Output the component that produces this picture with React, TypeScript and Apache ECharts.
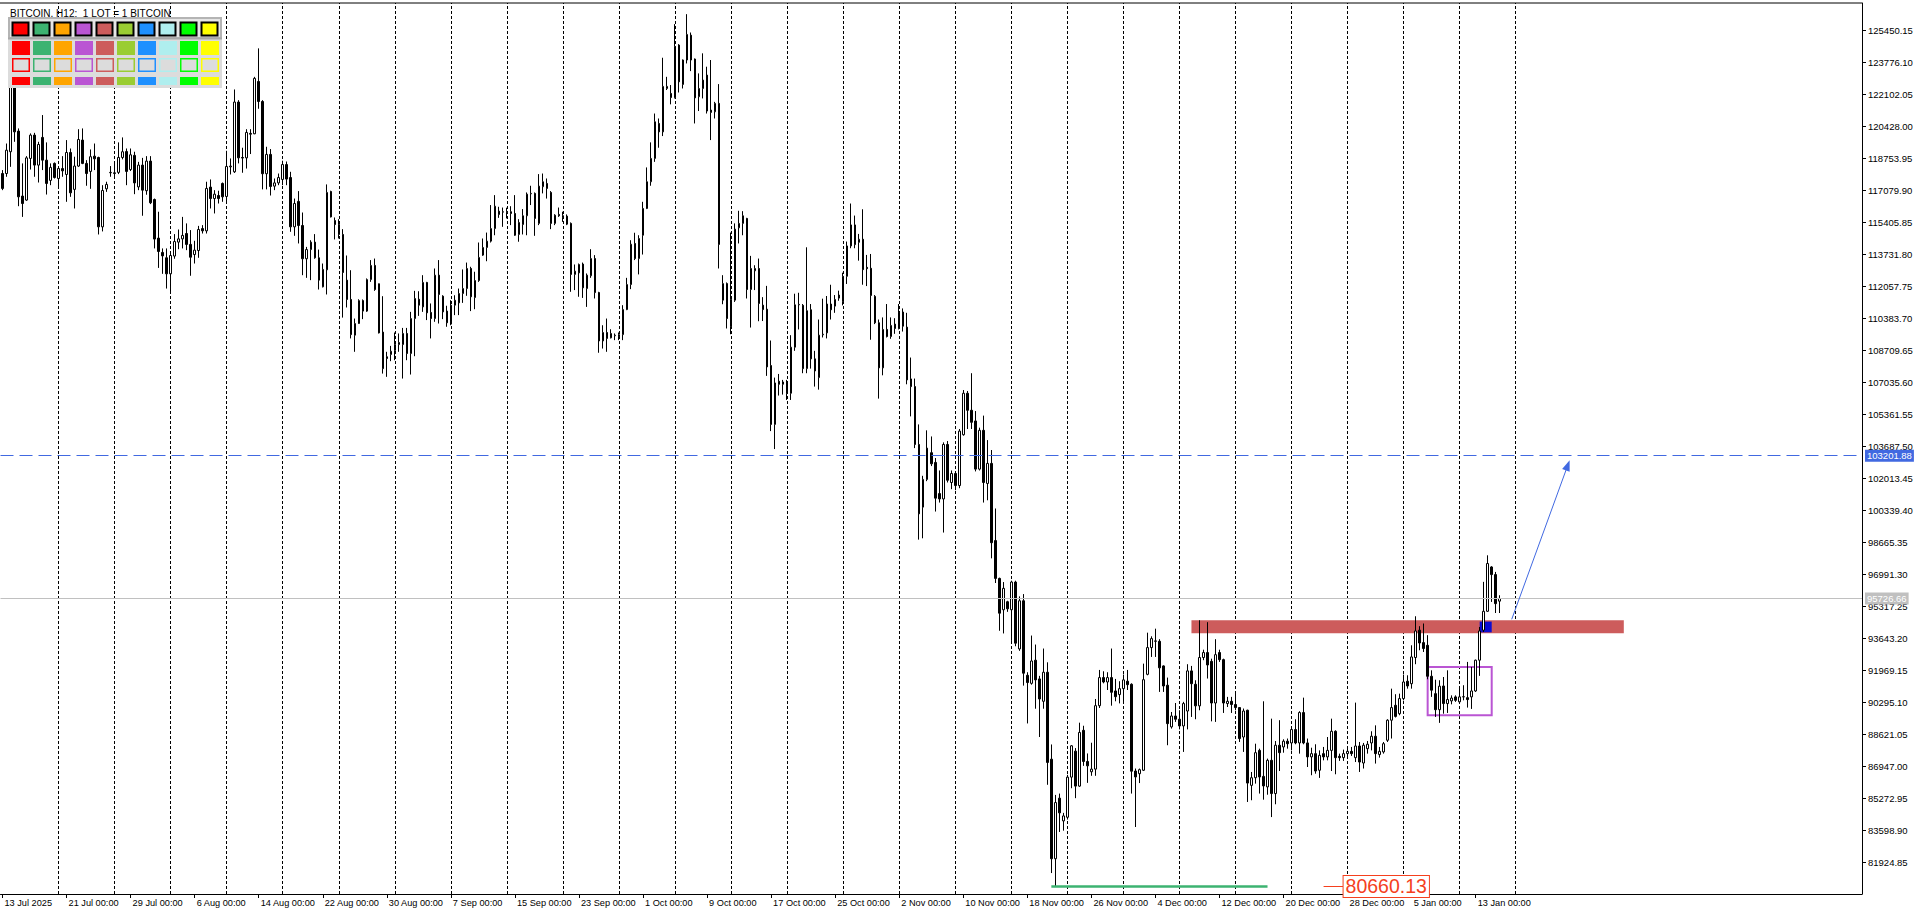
import React, { useEffect, useRef } from "react";
import * as echarts from "echarts";

// ---- Data: H12 candles, rows are [open, close, low, high] ----
const candlesJulAug: number[][] = [
  [117970, 117190, 117100, 118150], [117970, 119190, 117800, 119540], [119110, 122600, 118320, 123300], [122600, 120150, 119630, 122860],
  [120190, 116750, 116260, 120330], [116790, 116400, 115700, 118500], [116580, 118790, 116540, 118880], [118760, 119980, 118180, 120070],
  [119980, 118410, 117800, 120100], [118410, 119490, 117500, 119630], [119860, 118670, 118150, 121030], [118670, 117450, 116870, 119600],
  [117610, 118290, 117360, 118500], [118500, 117760, 117710, 118550], [117710, 118230, 117270, 118320], [118230, 118110, 117800, 118880],
  [117920, 119070, 116490, 119720], [119070, 116960, 116750, 119280], [117140, 118360, 116140, 118850], [118360, 119750, 118320, 120290],
  [119720, 118500, 118460, 120330], [118500, 117970, 117330, 118670], [118080, 118850, 117170, 119230], [118880, 118740, 118150, 119540],
  [118810, 115180, 114780, 118850], [115180, 117080, 114940, 117360], [117170, 117400, 117010, 117540], [118010, 118030, 117800, 118360],
  [117970, 118010, 117710, 118500], [118030, 118810, 117940, 119600], [118810, 119110, 118710, 119860], [119120, 118080, 117360, 119280],
  [118180, 118950, 118100, 119280], [118920, 117480, 116890, 119110], [117270, 118410, 117100, 118580], [118410, 117100, 115760, 118790],
  [117070, 118620, 116860, 118880], [118620, 116440, 116370, 118880], [116610, 114540, 114050, 116660], [114590, 113890, 113030, 115970],
  [113840, 113660, 112720, 114050], [113560, 112720, 111950, 114050], [112720, 113680, 111740, 113780], [113650, 114410, 113510, 114800],
  [114380, 114550, 114010, 115040], [114550, 114730, 114050, 115700], [114830, 114260, 113960, 115360], [114260, 113590, 112620, 115010],
  [113730, 113960, 113260, 114450], [113940, 115040, 113560, 115230], [115090, 114970, 114830, 115270], [114970, 117190, 114830, 117540],
  [117260, 116660, 116140, 117660], [116660, 116890, 115880, 117100], [116820, 116660, 116400, 117070], [117450, 116750, 116490, 117500],
  [116770, 118340, 116400, 119160], [118320, 118360, 117920, 118760], [118060, 121710, 118000, 122370], [121710, 118790, 118500, 121810],
  [118810, 118780, 118010, 119320], [118790, 120120, 118230, 120290], [120070, 120030, 118990, 120290], [120050, 122950, 120030, 123030],
  [122790, 121740, 121360, 124520], [121740, 117960, 117140, 121810], [117960, 118970, 117140, 119370], [118970, 117290, 116820, 119250],
  [117310, 117480, 117100, 117710], [117480, 117760, 117360, 117970], [117660, 118440, 117360, 118640], [118440, 117680, 117360, 118600],
  [117760, 115180, 114920, 118060], [115180, 116400, 114710, 116660], [116510, 115250, 114310, 117050], [115250, 113510, 112650, 115930],
  [113510, 113990, 112510, 114130], [113990, 114380, 112390, 114480], [114380, 113560, 113510, 114800], [113560, 112390, 111900, 113990],
  [112040, 112950, 112010, 113260], [112930, 116980, 111640, 117400], [117030, 115700, 115670, 117070], [115510, 115300, 114520, 115670],
  [115300, 114780, 114570, 115580], [114780, 112790, 110430, 115060], [112390, 111380, 110960, 113680], [111380, 109540, 109340, 112910],
  [109510, 110120, 108640, 110380], [110120, 111320, 110100, 111390], [111320, 110770, 110350, 111380], [110770, 112420, 110730, 112480],
  [112420, 113160, 112300, 113440], [113160, 111900, 111830, 113520], [112200, 109630, 109600, 112210], [109670, 107760, 107500, 111550],
  [108380, 108290, 107330, 108640],
];

const candlesSepOct: number[][] = [
  [108500, 108670, 108150, 108950], [108710, 109020, 108200, 109650], [109020, 109130, 108640, 109600], [109020, 109600, 107240, 109890],
  [109600, 108550, 108200, 109890], [108550, 110380, 107450, 110730], [110380, 111430, 108410, 111830], [111390, 111080, 110520, 111810],
  [110990, 112270, 110730, 112650], [112270, 110680, 110300, 112300], [110700, 110380, 109340, 111170], [110380, 112650, 110210, 113000],
  [112650, 111640, 110120, 113440], [111550, 110730, 110350, 111600], [110770, 110160, 109950, 111050], [110090, 111080, 110030, 111340],
  [111080, 111340, 110560, 111600], [111200, 111690, 110560, 111950], [111690, 111950, 111200, 112950], [111950, 113000, 111570, 113310],
  [113000, 111520, 110770, 113090], [111480, 112370, 110870, 112830], [112370, 113580, 112300, 114360], [113700, 114100, 113660, 114570],
  [114100, 114430, 113380, 114880], [114430, 115090, 114360, 116320], [115090, 116260, 114740, 116840], [116000, 115830, 115650, 116230],
  [115950, 115970, 115180, 116190], [115950, 115970, 115620, 116180], [115970, 115880, 115270, 116260], [115880, 114740, 114710, 116840],
  [114780, 115410, 114400, 115580], [115300, 115760, 114780, 116110], [115760, 116890, 114740, 116980], [116910, 116930, 116320, 117330],
  [116930, 115620, 114710, 116980], [115360, 117310, 115270, 117940], [117280, 117540, 116930, 117970], [117450, 117190, 116660, 117710],
  [116980, 115360, 115060, 117050], [115360, 115790, 115270, 115840], [115830, 115760, 115700, 116190], [115760, 115670, 115440, 115970],
  [115740, 115320, 115270, 115830], [115360, 112690, 111780, 115410], [112690, 112860, 111870, 113210], [112770, 113210, 111520, 113260],
  [113230, 111990, 111460, 113310], [111950, 112650, 110990, 112740], [112620, 113520, 112510, 114010], [113520, 111740, 111430, 113700],
  [111740, 109210, 108590, 111780], [109210, 109650, 108810, 110030], [109650, 109340, 108640, 110380], [109370, 109600, 109340, 109820],
  [109480, 109510, 109250, 109600], [109420, 109540, 109250, 109650], [109540, 110850, 109250, 111080], [110850, 112160, 110820, 112510],
  [112160, 114270, 111920, 114480], [114310, 113520, 113440, 114870], [113520, 114570, 112690, 114740], [114740, 116140, 113730, 116490],
  [116140, 117540, 116110, 118290], [117540, 118760, 117330, 119600], [118760, 120680, 118580, 121110], [120590, 120150, 119320, 120850],
  [120150, 122530, 119930, 124030], [122420, 122530, 122340, 123030], [122160, 121950, 121590, 122600], [121950, 124620, 121900, 125790],
  [124690, 122770, 122210, 124740], [122630, 123910, 122420, 123940], [123910, 125250, 123730, 126310], [125210, 123910, 123330, 125350],
  [123960, 121930, 120590, 123990], [121990, 122420, 121240, 123210], [122420, 122860, 121900, 124260], [123120, 121240, 121110, 123560],
  [121290, 121170, 119720, 123910], [121200, 121640, 120850, 121720], [121640, 114260, 113000, 122650], [111340, 112210, 111130, 112650],
  [112210, 110380, 109860, 112270], [109980, 111390, 109560, 114880], [111340, 115060, 111250, 115360], [115130, 115360, 114310, 116020],
  [115360, 115760, 114740, 116000], [115620, 111900, 111430, 115650], [111900, 113000, 109910, 113660], [112880, 113000, 111870, 113170],
  [113000, 111170, 110240, 113520], [111080, 110850, 110250, 111500], [110870, 107850, 107380, 112090],
];

const candlesOctNov: number[][] = [
  [107920, 104840, 104490, 109230], [104840, 107010, 103550, 107290], [107100, 106940, 106350, 107480], [106940, 107060, 106400, 107170],
  [107060, 106470, 106120, 107170], [106470, 108880, 106120, 109510], [108880, 111100, 108690, 111680], [111100, 111120, 109810, 111730],
  [111070, 107760, 107520, 111140], [107760, 110790, 107520, 114110], [110840, 108270, 107760, 111140], [108270, 107640, 106820, 108690],
  [107290, 109510, 106660, 110330], [109530, 109560, 109390, 111420], [109630, 111140, 109340, 111560], [111140, 110840, 110330, 112150],
  [111030, 111380, 110680, 111610], [111610, 111450, 111310, 111840], [111260, 112590, 111070, 112780], [112590, 114180, 112190, 114410],
  [114180, 115280, 114060, 116400], [115280, 114250, 114060, 115770], [114370, 114530, 113410, 114810], [114530, 112940, 112150, 116100],
  [113060, 112990, 112080, 113710], [113010, 111590, 109270, 113760], [111540, 110160, 110090, 111610], [110160, 107800, 106190, 110330],
  [107800, 109810, 107410, 110440], [109810, 109440, 109390, 111140], [109440, 110020, 109320, 110440], [110090, 109860, 109580, 110400],
  [109860, 110720, 109810, 111140], [110720, 109980, 109700, 110910], [109930, 107170, 106940, 110680], [107220, 106820, 105260, 108340],
  [106820, 103790, 103600, 107240], [103790, 100160, 98810, 104840], [100510, 101960, 98880, 102150], [101960, 103600, 101870, 104530],
  [103360, 102780, 102660, 104210], [102850, 100980, 100280, 103080], [101220, 100940, 100750, 102430], [100940, 103790, 99180, 103900],
  [103790, 101920, 101800, 103970], [101800, 102270, 101450, 102430], [102270, 101640, 101400, 102380], [101640, 104490, 101500, 104600],
  [104300, 106470, 104250, 106640], [106470, 105580, 104600, 106590], [105580, 104950, 104600, 107520], [105020, 102500, 102380, 105540],
  [102500, 104530, 102430, 104670], [104530, 101800, 100750, 105300], [101750, 102800, 100870, 104020], [102800, 98650, 97830, 103500],
  [98760, 96780, 96540, 100440], [96780, 94960, 94040, 96820], [95140, 96260, 93900, 96590], [95560, 95190, 95030, 95610],
  [95140, 96590, 93510, 96660], [96590, 93390, 93230, 96660], [93090, 95610, 92990, 95840], [95610, 91820, 91170, 95960],
  [91710, 91330, 89190, 91870], [91290, 92460, 91220, 93790], [92500, 91470, 89960, 93320], [91520, 90470, 88480, 91680],
  [90350, 91870, 89960, 93110], [91870, 87150, 85980, 92390], [87320, 82110, 81360, 88090], [82110, 85050, 80660.13, 85450],
  [85280, 84510, 83510, 85520], [84090, 84350, 83580, 84510], [84280, 86380, 84160, 86500], [86380, 88020, 85800, 88060],
  [87740, 85910, 85280, 87900], [85910, 88720, 85870, 89230], [88830, 87200, 86970, 89070], [87200, 86970, 86080, 87620],
  [86660, 86800, 86450, 88180], [86800, 90120, 86450, 90470], [90120, 91590, 90000, 91990], [91590, 91360, 91290, 91920],
  [91360, 91590, 90940, 91870], [91590, 90820, 90120, 93110], [90890, 90590, 90350, 91520], [90700, 91010, 90240, 91400],
  [91010, 91470, 90350, 91750], [91400, 91220, 90940, 91990], [91240, 86690, 85520, 91290],
];

const candlesDecJan: number[][] = [
  [86700, 86390, 83770, 86830], [86560, 86770, 86070, 86830], [86740, 91480, 86700, 92320], [91760, 93160, 91710, 93940],
  [93160, 93630, 92670, 93750], [93490, 93510, 92670, 94150], [93490, 92100, 90840, 93600], [92200, 91150, 90840, 92230],
  [91190, 89180, 88050, 91590], [89010, 89580, 88920, 89790], [89580, 89410, 89270, 90260], [89410, 89060, 88880, 89880],
  [89060, 90230, 87700, 90320], [89840, 91940, 88880, 92290], [91940, 91270, 89530, 92200], [91240, 90110, 89410, 91450],
  [90110, 92640, 89880, 94590], [92640, 92900, 92500, 93050], [92900, 92250, 91540, 94490], [92440, 90260, 89300, 92580],
  [90260, 92790, 89270, 93600], [92900, 92530, 92410, 93050], [92530, 90260, 89740, 92580], [90230, 90350, 90050, 90580],
  [90350, 90180, 89740, 90580], [90180, 90020, 89880, 90750], [90020, 88400, 88220, 90050], [88480, 89840, 87700, 89970],
  [89880, 86070, 85080, 89910], [85950, 86350, 85170, 86650], [86350, 87660, 86040, 88130], [87780, 86390, 85520, 87870],
  [86420, 85920, 85200, 90350], [85870, 87260, 85460, 87350], [87260, 85520, 84290, 89440], [85520, 88050, 84960, 88270],
  [88050, 87660, 86700, 89360], [87960, 88260, 87660, 88360], [88260, 88130, 87870, 88400], [88170, 88870, 87780, 89010],
  [88870, 88170, 88100, 89410], [88170, 89760, 87610, 89830], [89760, 88170, 88100, 90540], [88170, 87440, 86910, 88400],
  [87440, 87610, 86480, 87920], [87610, 86700, 86560, 88100], [86740, 87520, 86340, 87780], [87610, 87440, 87260, 87960],
  [87440, 87780, 87260, 88480], [87780, 88780, 86700, 89440], [88780, 87400, 86530, 88830], [87470, 87400, 87230, 87610],
  [87400, 87610, 87230, 87820], [87610, 87730, 87440, 87960], [87730, 87610, 87490, 87960], [87400, 88010, 87170, 90280],
  [88010, 87170, 86650, 88220], [87120, 88050, 86830, 88170], [87870, 88100, 87610, 88270], [88170, 88520, 87780, 88780],
  [88520, 87610, 87090, 89090], [87560, 87730, 87400, 87960], [87700, 88130, 87610, 88220], [88310, 89360, 88220, 89410],
  [89360, 90020, 88400, 91010], [90140, 89560, 89500, 90720], [89700, 90490, 89620, 90750], [90490, 91360, 90400, 91750],
  [91400, 91150, 91010, 91710], [91270, 92670, 91010, 93280], [92640, 94030, 92290, 94800], [94070, 93400, 93020, 94280],
  [93420, 93110, 92930, 94420], [93280, 91660, 91500, 93810], [91660, 90930, 90580, 91970], [90750, 89910, 89530, 91480],
  [89910, 91140, 89220, 91450], [91150, 90230, 89700, 91620], [90230, 90440, 89740, 91970], [90370, 90520, 90190, 90660],
  [90580, 90400, 90320, 90660], [90320, 90580, 90260, 91150], [90580, 90590, 90400, 91190], [90540, 90440, 90020, 92410],
  [90580, 90890, 89950, 92150], [90890, 92500, 90840, 92530], [92500, 94030, 91680, 94240], [94070, 95060, 93980, 96600],
  [95060, 97560, 95030, 97990], [97380, 96980, 95550, 97420], [96980, 95460, 94970, 97120], [95590, 95726.66, 94970, 95900],
];

const priceTicks: number[] = [
  81924.85, 83598.9, 85272.95, 86947.0, 88621.05, 90295.1, 91969.15, 93643.2, 95317.25, 96991.3, 98665.35, 100339.4,
  102013.45, 103687.5, 105361.55, 107035.6, 108709.65, 110383.7, 112057.75, 113731.8, 115405.85, 117079.9, 118753.95,
  120428.0, 122102.05, 123776.1, 125450.15,
];

const timeLabels: string[] = [
  "13 Jul 2025", "21 Jul 00:00", "29 Jul 00:00", "6 Aug 00:00", "14 Aug 00:00", "22 Aug 00:00", "30 Aug 00:00",
  "7 Sep 00:00", "15 Sep 00:00", "23 Sep 00:00", "1 Oct 00:00", "9 Oct 00:00", "17 Oct 00:00", "25 Oct 00:00",
  "2 Nov 00:00", "10 Nov 00:00", "18 Nov 00:00", "26 Nov 00:00", "4 Dec 00:00", "12 Dec 00:00", "20 Dec 00:00",
  "28 Dec 00:00", "5 Jan 00:00", "13 Jan 00:00",
];

const targetLevel = 103201.88;
const bidPrice = 95726.66;
const swingLow = 80660.13;
// zones: [fromBar, toBar, top, bottom]
const resistanceZone = [297, 405, 94590, 93910];
const breakoutBox = [369, 372, 94520, 93960];
const rangeBox = [356, 372, 92145, 89617];
// arrow: [fromBar, fromPrice, toBar, toPrice]
const projectionArrow = [377, 94640, 391, 102700];
const lowLine = [262, 316];
const lowLabelBars = [330, 335];

const paletteColors = [
  "#FF0000", "#3CB371", "#FFA500", "#BA55D3", "#CD5C5C", "#9ACD32", "#1E90FF", "#AFEEEE", "#00FF00", "#FFFF00",
];

const BARS_PER_LABEL = 16;
const BARS_PER_WEEK = 14;
const TOTAL_SLOTS = 465;
const FONT = "'Liberation Sans', Arial, sans-serif";

export default function App() {
  const ref = useRef<HTMLDivElement>(null);

  useEffect(() => {
    if (!ref.current) return;
    const chart = echarts.init(ref.current, undefined, { renderer: "svg" });

    const candles = [...candlesJulAug, ...candlesSepOct, ...candlesOctNov, ...candlesDecJan];
    const start = Date.UTC(2025, 6, 13);
    const cats: string[] = [];
    for (let i = 0; i < TOTAL_SLOTS; i++) {
      const d = new Date(start + i * 12 * 3600 * 1000);
      cats.push(
        `${d.getUTCFullYear()}.${String(d.getUTCMonth() + 1).padStart(2, "0")}.${String(d.getUTCDate()).padStart(2, "0")} ${String(d.getUTCHours()).padStart(2, "0")}:00`
      );
    }

    const labelInterval = (idx: number) => idx % BARS_PER_LABEL === 0 && idx / BARS_PER_LABEL < timeLabels.length;

    const weekLines: any[] = [];
    for (let k = BARS_PER_WEEK; k <= 378; k += BARS_PER_WEEK) {
      weekLines.push({ xAxis: cats[k] });
    }

    const panel: any[] = [];
    panel.push({ type: "rect", shape: { x: 8, y: 17, width: 214, height: 71 }, style: { fill: "#DCDCDC" }, z: 100 });
    panel.push({ type: "rect", shape: { x: 9, y: 18, width: 212, height: 20 }, style: { fill: "#E6E6E6", stroke: "#B4B4B4", lineWidth: 2 }, z: 100 });
    panel.push({ type: "line", shape: { x1: 8, y1: 38.5, x2: 222, y2: 38.5 }, style: { stroke: "#A8A8A8", lineWidth: 2 }, z: 101 });
    paletteColors.forEach((c, i) => {
      const x = 12 + i * 21;
      panel.push({ type: "rect", shape: { x: x + 0.5, y: 22.5, width: 16, height: 13 }, style: { fill: c, stroke: "#000", lineWidth: 2 }, z: 102 });
      panel.push({ type: "rect", shape: { x, y: 41, width: 18, height: 14 }, style: { fill: c }, z: 102 });
      panel.push({ type: "rect", shape: { x: x + 0.75, y: 58.75, width: 16.5, height: 12.5 }, style: { fill: "#DCDCDC", stroke: c, lineWidth: 1.5 }, z: 102 });
      panel.push({ type: "rect", shape: { x, y: 77, width: 18, height: 8 }, style: { fill: c }, z: 102 });
    });
    panel.push({ type: "line", shape: { x1: 0, y1: 3, x2: 1862, y2: 3 }, style: { stroke: "#000", lineWidth: 1 }, z: 50 });

    const option: any = {
      animation: false,
      backgroundColor: "#ffffff",
      title: {
        text: "BITCOIN, H12:  1 LOT = 1 BITCOIN",
        left: 5,
        top: 3,
        textStyle: { fontFamily: FONT, fontSize: 10, fontWeight: "normal", color: "#000" },
      },
      grid: { left: 0.5, right: 58, top: 3, bottom: 21 },
      xAxis: {
        type: "category",
        data: cats,
        boundaryGap: true,
        axisLine: { show: true, lineStyle: { color: "#000", width: 1 } },
        axisTick: { show: true, interval: labelInterval, alignWithLabel: true, length: 4, lineStyle: { color: "#000" } },
        axisLabel: {
          interval: labelInterval,
          formatter: (_v: string, idx: number) => timeLabels[idx / BARS_PER_LABEL] || "",
          align: "left",
          margin: 4,
          padding: [0, 0, 0, 2],
          fontFamily: FONT,
          fontSize: 9.2,
          color: "#000",
        },
        splitLine: { show: false },
      },
      yAxis: {
        type: "value",
        position: "right",
        min: 80264.1,
        max: 126894.6,
        scale: true,
        axisLine: { show: true, lineStyle: { color: "#000", width: 1 } },
        axisTick: { show: true, length: 4, customValues: priceTicks, lineStyle: { color: "#000" } },
        axisLabel: {
          customValues: priceTicks,
          formatter: (v: number) => v.toFixed(2),
          margin: 6,
          fontFamily: FONT,
          fontSize: 9.5,
          color: "#000",
        },
        splitLine: { show: false },
      },
      graphic: { elements: panel },
      series: [
        {
          type: "line",
          data: cats.map(() => null),
          showSymbol: false,
          silent: true,
          z: 1,
          markLine: {
            z: 0.5,
            silent: true,
            symbol: ["none", "none"],
            label: { show: false },
            lineStyle: { color: "#000", type: [3, 2], width: 1 },
            data: weekLines,
          },
        },
        {
          type: "candlestick",
          data: candles,
          barWidth: 2,
          z: 2,
          itemStyle: {
            color: "#ffffff",
            color0: "#000000",
            borderColor: "#000000",
            borderColor0: "#000000",
            borderWidth: 1,
          },
          markArea: {
            z: 1,
            silent: true,
            data: [
              [
                { xAxis: cats[resistanceZone[0]], yAxis: resistanceZone[2], itemStyle: { color: "#CD5C5C" } },
                { xAxis: cats[resistanceZone[1]], yAxis: resistanceZone[3] },
              ],
              [
                { xAxis: cats[breakoutBox[0]], yAxis: breakoutBox[2], itemStyle: { color: "#0C0CD2" } },
                { xAxis: cats[breakoutBox[1]], yAxis: breakoutBox[3] },
              ],
              [
                {
                  xAxis: cats[rangeBox[0]],
                  yAxis: rangeBox[2],
                  itemStyle: { color: "rgba(0,0,0,0)", borderColor: "#BA55D3", borderWidth: 2 },
                },
                { xAxis: cats[rangeBox[1]], yAxis: rangeBox[3] },
              ],
            ],
          },
          markLine: {
            z: 5,
            silent: true,
            symbol: ["none", "none"],
            data: [
              {
                yAxis: targetLevel,
                lineStyle: { color: "#4169E1", type: [13, 6], width: 1 },
                label: {
                  show: true,
                  position: "end",
                  distance: 3,
                  formatter: () => targetLevel.toFixed(2),
                  backgroundColor: "#4169E1",
                  color: "#fff",
                  fontFamily: FONT,
                  fontSize: 9.5,
                  lineHeight: 11,
                  padding: [1, 2, 0, 2],
                },
              },
              {
                yAxis: bidPrice,
                lineStyle: { color: "#C0C0C0", type: "solid", width: 1 },
                label: {
                  show: true,
                  position: "end",
                  distance: 3,
                  formatter: () => bidPrice.toFixed(2),
                  backgroundColor: "#C0C0C0",
                  color: "#fff",
                  fontFamily: FONT,
                  fontSize: 9.5,
                  lineHeight: 11,
                  padding: [1, 2, 0, 2],
                },
              },
              [
                {
                  coord: [cats[projectionArrow[0]], projectionArrow[1]],
                  symbol: "none",
                  lineStyle: { color: "#4169E1", width: 1, type: "solid" },
                  label: { show: false },
                },
                { coord: [cats[projectionArrow[2]], projectionArrow[3]], symbol: "triangle", symbolSize: [8, 11] },
              ],
              [
                {
                  coord: [cats[lowLine[0]], swingLow],
                  lineStyle: { color: "#3CB371", width: 2.5, type: "solid" },
                  label: { show: false },
                },
                { coord: [cats[lowLine[1]], swingLow] },
              ],
              [
                {
                  coord: [cats[lowLabelBars[0]], swingLow],
                  lineStyle: { color: "#F5401E", width: 1, type: "solid" },
                },
                {
                  coord: [cats[lowLabelBars[1]], swingLow],
                  label: {
                    show: true,
                    position: "end",
                    distance: 0,
                    formatter: () => swingLow.toFixed(2),
                    color: "#F5401E",
                    backgroundColor: "#ffffff",
                    borderColor: "#F5401E",
                    borderWidth: 1,
                    fontFamily: FONT,
                    fontSize: 19.5,
                    lineHeight: 20,
                    padding: [1, 2, 0, 2],
                  },
                },
              ],
            ],
          },
        },
      ],
    };

    chart.setOption(option);
    return () => chart.dispose();
  }, []);

  return (
    <div
      ref={ref}
      style={{ position: "fixed", left: 0, top: 0, width: 1920, height: 915, background: "#fff" }}
    />
  );
}
